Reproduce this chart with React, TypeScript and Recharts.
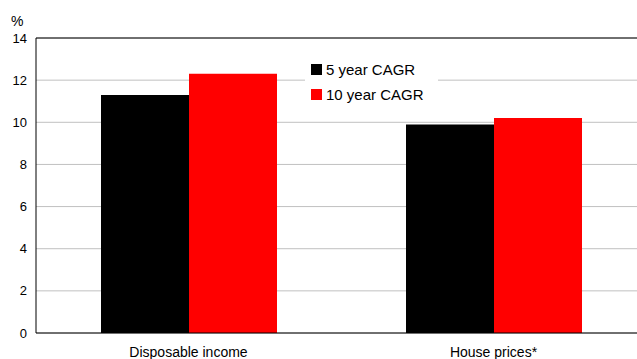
import React from 'react';
import {
  BarChart,
  Bar,
  XAxis,
  YAxis,
  CartesianGrid,
  ReferenceLine,
} from 'recharts';

const categories = ['Disposable income', 'House prices*'];
const cagr5 = [11.3, 9.9];
const cagr10 = [12.3, 10.2];
const yTicks = [0, 2, 4, 6, 8, 10, 12, 14];

const series = [
  { key: 'cagr5', name: '5 year CAGR', color: '#000000' },
  { key: 'cagr10', name: '10 year CAGR', color: '#ff0000' },
];

const data = categories.map((name, i) => ({
  name,
  cagr5: cagr5[i],
  cagr10: cagr10[i],
}));

const FONT = 'Arial, "Liberation Sans", Helvetica, sans-serif';

// legend sits on a white box over the 12% gridline
const LegendBox = () => (
  <div
    style={{
      position: 'absolute',
      left: 305,
      top: 57,
      width: 133,
      background: '#fff',
      fontFamily: FONT,
    }}
  >
    {series.map((s) => (
      <div
        key={s.key}
        style={{ display: 'flex', alignItems: 'center', height: 25, paddingLeft: 6 }}
      >
        <span style={{ width: 11, height: 11, background: s.color, marginRight: 4 }} />
        <span style={{ fontSize: 15, color: '#000' }}>{s.name}</span>
      </div>
    ))}
  </div>
);

export default function App() {
  return (
    <div
      style={{
        position: 'fixed',
        left: 0,
        top: 0,
        width: 637,
        height: 359,
        overflow: 'hidden',
        background: '#fff',
        fontFamily: FONT,
      }}
    >
      <BarChart
        width={646}
        height={359}
        data={data}
        margin={{ top: 38, right: 0, bottom: 0, left: 0 }}
        barGap={0}
        barSize={88}
      >
        <CartesianGrid vertical={false} stroke="#c0c0c0" />
        <XAxis
          dataKey="name"
          height={26}
          tickSize={0}
          tickMargin={14}
          axisLine={{ stroke: '#000' }}
          tick={{ fontSize: 14, fill: '#000', fontFamily: FONT }}
        />
        <YAxis
          width={36}
          domain={[0, 14]}
          ticks={yTicks}
          tickSize={0}
          tickMargin={9}
          axisLine={{ stroke: '#000' }}
          tick={{ fontSize: 13, fill: '#000', fontFamily: FONT }}
        />
        <ReferenceLine y={14} stroke="#000" />
        {series.map((s) => (
          <Bar
            key={s.key}
            dataKey={s.key}
            name={s.name}
            fill={s.color}
            isAnimationActive={false}
          />
        ))}
      </BarChart>
      <span
        style={{ position: 'absolute', left: 11, top: 13, fontSize: 14, color: '#000' }}
      >
        %
      </span>
      <LegendBox />
    </div>
  );
}
